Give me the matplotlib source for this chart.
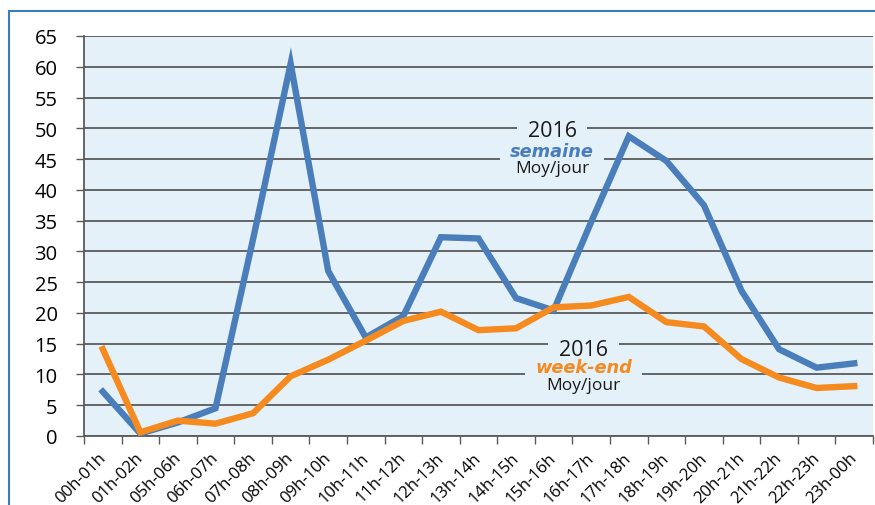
import matplotlib.pyplot as plt
from matplotlib.lines import Line2D

plt.rcParams['font.family'] = ['Open Sans', 'DejaVu Sans']

hours = ["00h-01h", "01h-02h", "05h-06h", "06h-07h", "07h-08h", "08h-09h",
         "09h-10h", "10h-11h", "11h-12h", "12h-13h", "13h-14h", "14h-15h",
         "15h-16h", "16h-17h", "17h-18h", "18h-19h", "19h-20h", "20h-21h",
         "21h-22h", "22h-23h", "23h-00h"]
semaine = [7.2, 0.4, 2.2, 4.5, 32.0, 60.5, 26.8, 16.0, 19.5, 32.3, 32.1,
           22.4, 20.4, 34.8, 48.7, 44.7, 37.5, 23.6, 14.1, 11.1, 11.8]
week_end = [14.1, 0.6, 2.5, 2.0, 3.7, 9.7, 12.4, 15.5, 18.7, 20.2, 17.2,
            17.5, 20.9, 21.2, 22.6, 18.5, 17.8, 12.5, 9.5, 7.8, 8.1]

BLUE = '#4a7ebb'
ORANGE = '#f58a1f'
BG = '#e4f1f9'
GRID = '#5a5a5a'

fig = plt.figure(figsize=(8.75, 5.06), dpi=100)
ax = fig.add_axes([0.096, 0.1364, 0.9017, 0.7905])
ax.set_facecolor(BG)

x = list(range(len(hours)))
ax.plot(x, semaine, color=BLUE, lw=4.6, solid_joinstyle='miter', zorder=4)
ax.plot(x, week_end, color=ORANGE, lw=4.6, solid_joinstyle='miter', zorder=5)

ax.set_xlim(-0.5, len(hours) - 0.5)
ax.set_ylim(0, 65)
ax.set_yticks(range(0, 70, 5))
ax.tick_params(axis='y', length=6, width=1, color=GRID, labelsize=14.5, pad=13)
ax.yaxis.grid(True, color=GRID, lw=1.3)
ax.set_axisbelow(True)

# labels hang from near each category centre, ticks on the boundaries
ax.set_xticks([i - 0.14 for i in x])
ax.set_xticklabels(hours, rotation=45, ha='right', va='top',
                   rotation_mode='anchor', fontsize=12)
ax.tick_params(axis='x', which='major', length=0, pad=9.5)
ax.set_xticks([i - 0.5 for i in range(len(hours) + 1)], minor=True)
ax.tick_params(axis='x', which='minor', length=6, width=1, color=GRID)

for side in ('top', 'right'):
    ax.spines[side].set_visible(False)
for side in ('left', 'bottom'):
    ax.spines[side].set_color(GRID)
    ax.spines[side].set_linewidth(1.3)


def boxed(xc, yc, s, pad, color, **kw):
    # background patch drawn under the text so the gridlines are broken
    ax.text(xc, yc, s, ha='center', va='center', color='none', zorder=2.5,
            bbox=dict(facecolor=BG, edgecolor='none',
                      boxstyle=f'square,pad={pad}'), **kw)
    ax.text(xc, yc, s, ha='center', va='center', color=color, zorder=3, **kw)


def caption(xc, ys, name, color):
    boxed(xc, ys[0], '2016', 0.5, '#1a1a1a', fontsize=15.5)
    boxed(xc, ys[1], name, 0.55, color, fontsize=12.8,
          family='DejaVu Sans', fontweight='bold', fontstyle='oblique')
    ax.text(xc, ys[2], 'Moy/jour', ha='center', va='center', fontsize=12.5,
            color='#1a1a1a', zorder=3)


caption(11.96, (49.6, 46.3, 43.5), 'semaine', BLUE)
caption(12.8, (14.1, 11.2, 8.3), 'week-end', ORANGE)

# frame around the chart
fig.add_artist(Line2D([0.0103, 0.0103], [0.0, 0.976], color='#3a7cc4', lw=1.5))
fig.add_artist(Line2D([0.0103, 1.0], [0.976, 0.976], color='#3a7cc4', lw=1.5))

fig.savefig('out.png', dpi=100)
